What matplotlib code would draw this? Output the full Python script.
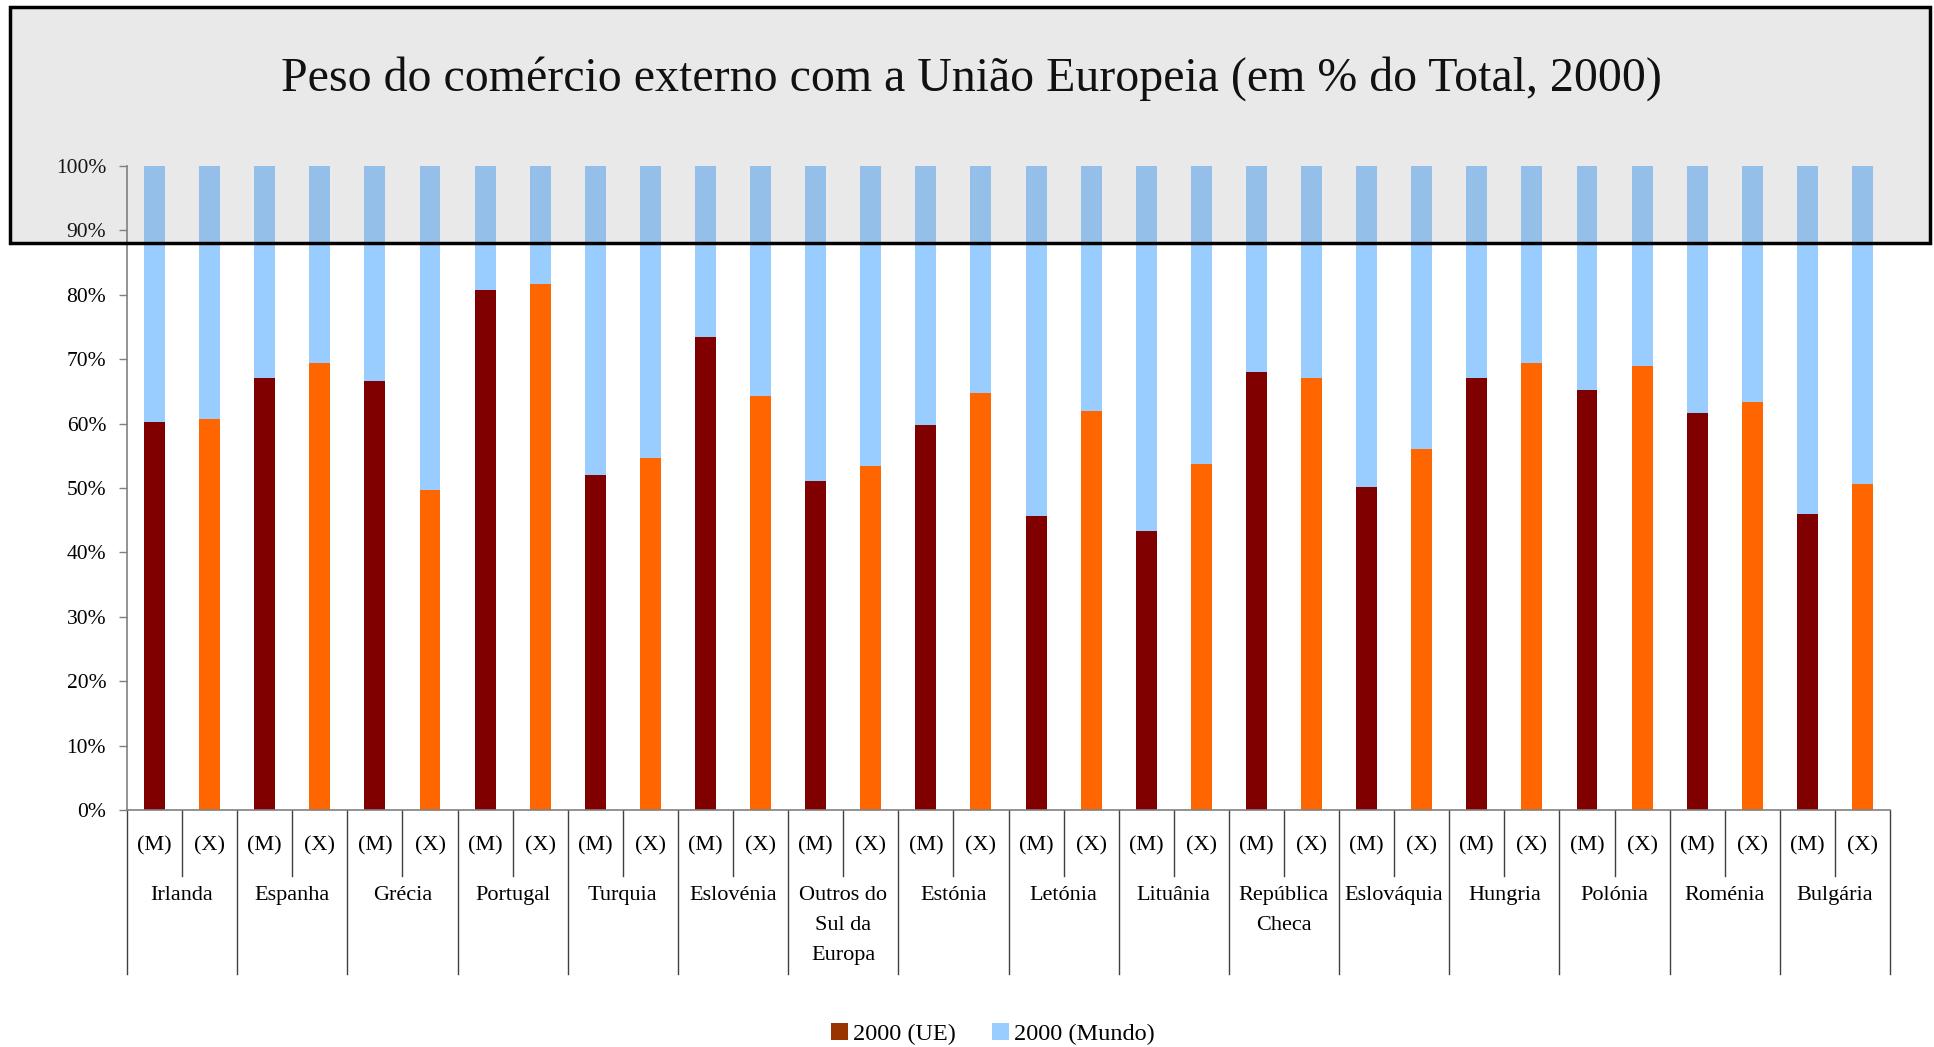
import matplotlib
matplotlib.use("Agg")
import matplotlib.pyplot as plt
from matplotlib.patches import Rectangle, Patch
import numpy as np

plt.rcParams['font.family'] = ['Liberation Serif', 'DejaVu Serif']

countries = ["Irlanda", "Espanha", "Grécia", "Portugal", "Turquia", "Eslovénia",
             "Outros do\nSul da\nEuropa", "Estónia", "Letónia", "Lituânia",
             "República\nCheca", "Eslováquia", "Hungria", "Polónia", "Roménia", "Bulgária"]
flows = ["(M)", "(X)"]
ue_import = [60.2, 67.1, 66.6, 80.7, 52.0, 73.4, 51.1, 59.8, 45.7, 43.3, 68.0, 50.2, 67.1, 65.2, 61.6, 46.0]
ue_export = [60.7, 69.4, 49.7, 81.7, 54.7, 64.3, 53.4, 64.8, 62.0, 53.7, 67.1, 56.1, 69.4, 68.9, 63.4, 50.6]
total = 100.0

title = "Peso do comércio externo com a União Europeia (em % do Total, 2000)"
legend_labels = ["2000 (UE)", "2000 (Mundo)"]

c_imp = "#800000"
c_exp = "#FF6600"
c_world = "#99CCFF"
c_leg_ue = "#993300"

W, H = 1934, 1047
fig = plt.figure(figsize=(W / 100, H / 100), dpi=100)
ax = fig.add_axes([127 / W, 1 - 810 / H, (1890 - 127) / W, (810 - 166) / H])

n = len(countries)
ue_vals = []
colors = []
for i in range(n):
    ue_vals += [ue_import[i], ue_export[i]]
    colors += [c_imp, c_exp]
x = np.arange(2 * n)
ue_vals = np.array(ue_vals)
bw = 0.38
ax.bar(x, ue_vals, width=bw, color=colors, zorder=2)
ax.bar(x, total - ue_vals, bottom=ue_vals, width=bw, color=c_world, zorder=2)

ax.set_xlim(-0.5, 2 * n - 0.5)
ax.set_ylim(0, 100)
ax.set_yticks(np.arange(0, 101, 10))
ax.set_yticklabels([f"{v}%" for v in range(0, 101, 10)], fontsize=15.5)
ax.tick_params(axis='y', length=6, width=1, color='#808080', pad=9)
ax.set_xticks([])
for s in ['top', 'right']:
    ax.spines[s].set_visible(False)
for s in ['left', 'bottom']:
    ax.spines[s].set_color('#808080')
    ax.spines[s].set_linewidth(1.2)

trans = ax.get_xaxis_transform()
ax_h = 810 - 166
y_inner = -(876 - 810) / ax_h
y_outer = -(974 - 810) / ax_h
for i in range(n + 1):
    xb = 2 * i - 0.5
    ax.plot([xb, xb], [0, y_outer], transform=trans, color='#404040', lw=1, clip_on=False)
for i in range(n):
    xm = 2 * i + 0.5
    ax.plot([xm, xm], [0, y_inner], transform=trans, color='#404040', lw=1, clip_on=False)
    for j, f in enumerate(flows):
        ax.text(2 * i + j, -(846 - 810) / ax_h, f, transform=trans, ha='center', va='center',
                fontsize=16)
    ax.text(2 * i + 0.5, -(886 - 810) / ax_h, countries[i], transform=trans, ha='center',
            va='top', fontsize=16, linespacing=1.8)

handles = [Patch(facecolor=c_leg_ue), Patch(facecolor=c_world)]
fig.legend(handles, legend_labels, loc='center', bbox_to_anchor=(993 / W, 1 - 1034 / H),
           ncol=2, frameon=False, fontsize=17.5, handlelength=0.7, handleheight=0.7,
           handletextpad=0.2, columnspacing=1.5)

box = Rectangle((10 / W, 1 - 243 / H), (1930 - 10) / W, (243 - 7) / H, transform=fig.transFigure,
                facecolor=(0.5, 0.5, 0.5, 0.17), edgecolor='black', linewidth=2.5, zorder=5)
fig.patches.append(box)
fig.text(971 / W, 1 - 79 / H, title, ha='center', va='center', fontsize=34.5, color='#111111',
         zorder=6)

fig.savefig("out.png", dpi=100)
